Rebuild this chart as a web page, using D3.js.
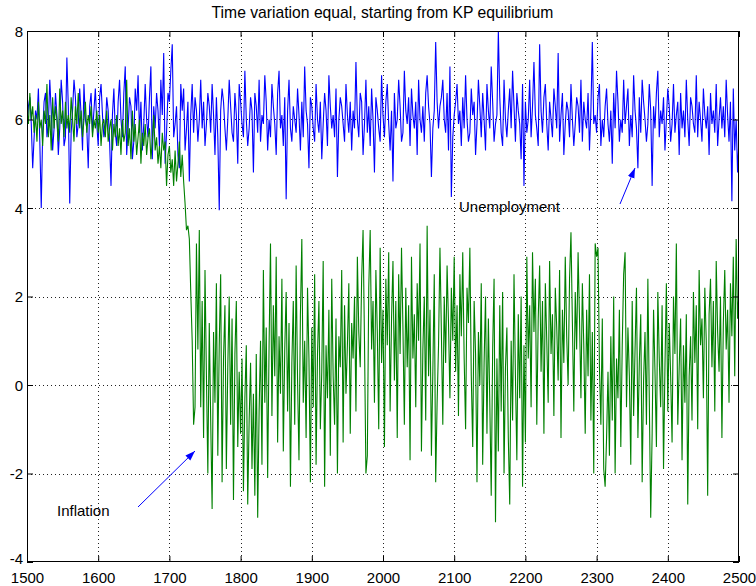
<!DOCTYPE html>
<html>
<head>
<meta charset="utf-8">
<script src="https://cdn.jsdelivr.net/npm/d3@7"></script>
<style>
  html, body { margin: 0; padding: 0; background: #fff; }
  svg { display: block; }
  text { font-family: "Liberation Sans", Arial, Helvetica, sans-serif; fill: #000; }
</style>
</head>
<body>
<svg id="chart" width="756" height="586"></svg>
<script>
// ---- data ----
const titleText = "Time variation equal, starting from KP equilibrium";
const startYear = 1500;
const yearStep = 2;
const xTicks = [1500, 1600, 1700, 1800, 1900, 2000, 2100, 2200, 2300, 2400, 2500];
const yTicks = [-4, -2, 0, 2, 4, 6, 8];
const xDomain = [1500, 2500];
const yDomain = [-4, 8];

const unemployment = [
  5.8,6.3,6.5,5.9,4.9,5.6,6.2,6.0,6.7,5.5,
  4.0,5.7,6.4,6.6,5.6,5.9,6.9,6.2,5.3,5.8,
  6.6,6.1,5.2,5.8,6.9,6.4,5.4,5.6,7.4,6.3,
  4.1,5.7,6.2,6.9,6.5,5.6,5.9,6.7,6.1,5.3,
  6.8,6.0,5.8,4.9,6.3,6.6,5.7,6.2,6.7,5.9,
  5.4,6.5,6.8,6.1,5.6,5.8,6.5,6.2,5.5,4.5,
  6.1,6.7,5.7,5.4,6.4,6.9,6.0,5.6,6.6,7.2,
  5.2,5.8,6.5,6.3,5.1,5.5,6.7,6.2,7.0,5.7,
  6.4,5.3,5.9,6.8,6.0,5.6,6.5,7.2,5.1,6.3,
  5.8,6.6,6.2,5.4,6.9,6.1,7.5,5.0,5.7,6.6,
  6.4,7.1,7.7,5.6,5.9,6.3,5.2,4.9,6.8,6.2,
  6.7,5.3,5.8,6.4,4.6,6.1,6.8,5.7,6.5,6.2,
  5.5,6.0,6.9,5.8,6.4,5.4,5.9,6.6,6.3,5.7,
  6.8,6.1,5.2,6.5,5.6,3.95,6.2,6.7,6.4,5.8,
  5.3,6.0,6.9,6.3,5.7,5.5,6.6,6.1,5.0,6.8,
  6.4,5.9,5.6,7.1,6.0,5.4,5.8,6.5,6.2,4.8,
  6.6,6.3,5.7,6.9,5.5,6.1,5.9,7.0,6.4,5.3,
  6.0,5.6,6.8,6.3,5.9,5.2,6.6,7.1,5.8,6.1,
  5.4,6.5,4.2,6.2,6.9,5.8,5.5,6.3,6.0,5.7,
  6.7,6.1,5.3,6.4,5.6,7.2,6.2,5.9,4.9,6.5,
  6.3,5.8,5.5,6.8,6.0,5.7,6.4,5.1,5.9,6.6,
  6.2,5.4,7.0,6.3,5.8,6.1,5.6,6.7,4.7,6.0,
  6.5,6.3,5.9,5.5,6.8,6.1,5.7,6.4,5.3,6.2,
  5.8,7.3,6.0,5.6,6.6,6.4,5.2,5.9,6.9,5.7,
  6.3,5.4,6.7,6.0,4.8,6.5,6.2,5.8,5.5,7.0,
  6.1,5.6,6.4,6.8,5.9,5.3,6.2,4.6,6.6,5.8,
  6.0,6.9,6.3,5.5,5.7,7.1,6.2,5.9,6.5,5.4,
  6.7,6.1,5.8,6.4,5.2,6.9,6.0,5.7,6.3,5.5,
  6.6,7.0,6.3,5.9,4.7,5.8,6.2,7.75,6.4,5.8,
  6.3,6.5,6.9,6.0,5.7,6.6,5.3,7.2,4.25,5.6,
  6.1,6.4,6.8,5.9,6.2,5.4,6.5,5.8,7.0,6.0,
  5.5,5.7,6.7,6.1,6.4,5.2,5.9,6.9,6.3,5.6,
  6.6,6.0,5.3,6.8,6.2,5.8,7.2,6.4,5.5,5.9,
  6.1,8.0,6.5,5.7,5.4,6.9,6.0,5.6,6.2,6.7,
  5.8,7.1,6.3,5.5,6.6,6.2,5.9,5.1,6.8,4.5,
  6.4,5.7,6.0,6.9,5.6,6.3,7.3,6.1,5.8,5.4,
  7.7,6.2,5.7,6.5,6.8,5.9,5.3,6.4,6.0,5.6,
  6.7,6.3,5.8,7.5,5.5,6.1,6.6,5.2,5.9,6.4,
  6.2,5.6,6.8,6.0,5.4,5.9,6.5,6.3,5.7,6.9,
  5.5,6.4,6.0,5.8,6.6,5.3,6.2,7.75,5.9,6.1,
  5.7,6.5,6.8,5.4,6.0,5.6,6.3,6.7,5.9,5.5,
  6.2,5.0,6.6,5.8,7.1,6.4,5.5,6.0,5.7,6.9,
  5.9,6.3,6.7,5.4,6.1,5.6,7.0,6.2,5.8,4.9,
  6.5,5.7,6.9,6.4,6.0,5.5,5.9,6.8,6.2,4.5,
  6.3,5.8,6.6,7.1,5.6,6.2,5.9,6.5,5.3,6.0,
  6.7,6.3,5.5,5.9,6.8,5.7,6.1,6.4,5.2,6.6,
  5.8,6.2,5.6,6.9,6.0,5.4,6.5,6.3,5.9,5.7,
  7.0,5.6,6.4,6.0,5.5,6.7,6.1,5.8,6.3,5.2,
  6.6,5.9,6.2,5.7,6.8,5.4,6.0,6.5,5.8,6.3,
  5.6,6.9,6.1,5.5,6.4,4.15,6.7,5.3,6.0,4.8,
  5.6
];

const inflation = [
  6.2,5.9,6.6,6.0,6.3,5.7,6.1,5.5,6.4,5.8,
  6.0,5.4,6.2,5.9,6.8,5.6,6.1,5.3,6.5,5.8,
  6.3,6.0,5.5,6.7,5.9,6.2,5.6,6.4,5.8,6.1,
  5.7,6.5,6.0,5.5,6.3,5.9,6.6,5.8,6.2,5.6,
  6.0,6.4,5.7,6.1,5.9,6.3,5.6,6.0,5.8,6.2,
  5.7,6.1,5.4,5.9,6.0,5.6,6.2,5.5,5.8,6.0,
  5.3,5.9,5.6,6.1,5.4,5.8,5.2,6.0,5.5,5.7,
  6.9,5.4,5.8,5.1,6.2,5.5,5.9,5.2,5.6,6.0,
  5.0,5.7,5.4,5.9,5.2,5.6,5.8,5.1,5.5,6.1,
  5.3,5.6,5.0,5.4,4.9,5.7,5.3,5.5,4.5,5.2,
  5.4,4.8,5.1,4.5,5.3,4.6,5.0,5.5,4.7,5.2,
  4.6,4.1,3.5,3.6,3.3,2.1,1.0,-0.9,-0.5,3.2,
  0.8,3.5,-0.5,1.9,-1.2,2.6,0.2,-2.0,1.4,-0.8,
  -2.8,1.2,-0.4,2.3,-1.6,0.9,2.5,-2.2,0.6,1.8,
  -1.9,0.4,2.0,-0.9,1.5,-2.6,0.7,1.9,-1.4,0.3,
  -1.1,0.6,-2.4,-0.3,0.9,-2.7,-0.8,0.5,-1.9,-0.2,
  -2.5,0.7,-3.0,-0.6,1.0,-1.8,2.6,-0.4,1.3,-2.1,
  0.9,3.2,-0.7,1.8,0.2,2.9,-1.3,1.1,-0.2,2.4,
  -1.5,0.8,2.1,-0.6,1.4,-2.3,0.5,1.9,-0.9,2.7,
  0.1,-1.7,1.6,3.3,-0.4,1.0,-1.2,2.2,0.6,-2.2,
  1.3,-0.5,2.5,-1.8,0.7,1.9,-1.0,0.3,2.8,-2.3,
  0.9,-0.3,1.7,-1.6,2.4,0.2,-0.9,1.5,-2.0,1.1,
  0.4,2.6,-1.3,1.8,-0.2,0.9,2.3,-1.1,1.4,0.6,
  2.0,-0.6,2.9,1.2,0.4,2.4,3.5,1.0,-2.0,-1.6,
  2.2,3.5,0.8,1.9,-0.4,2.6,1.2,-1.0,3.1,0.5,
  1.7,-1.4,2.4,0.9,3.0,-0.6,1.5,2.8,0.1,1.9,
  -1.2,2.5,0.7,3.1,1.3,-0.9,2.2,0.4,1.8,-1.7,
  2.9,0.6,1.6,-0.5,2.3,1.0,3.2,-1.5,0.8,2.0,
  -0.8,3.6,0.2,1.7,-1.6,0.3,2.5,-2.2,-0.4,0.9,
  3.1,1.2,-0.9,2.0,0.5,2.7,1.4,-0.3,2.2,1.0,
  2.9,0.3,1.8,-0.7,2.5,1.1,3.0,0.6,-1.0,2.2,
  1.4,3.1,0.2,-1.4,1.9,0.7,-2.2,1.2,0.0,2.3,
  -1.8,0.5,2.0,-1.1,1.5,-0.4,-2.5,0.8,2.4,-3.1,
  0.6,-1.5,1.8,-0.6,2.1,-2.0,0.4,1.3,-1.2,-2.7,
  1.0,-0.8,2.5,0.2,-1.7,1.6,-0.3,2.0,-2.3,0.9,
  -1.3,2.9,0.6,1.8,-0.5,3.0,1.2,2.4,-0.9,1.5,
  2.7,0.3,1.9,-1.1,2.3,1.0,-0.4,2.8,0.7,1.6,
  -0.7,2.2,1.3,0.1,2.6,-1.2,1.7,0.5,2.9,1.1,
  0.0,2.4,3.45,1.4,-0.6,2.1,0.8,3.0,1.5,-0.3,
  2.3,0.9,-1.1,1.7,0.2,2.5,-0.8,1.2,-2.0,3.2,
  2.9,3.1,0.4,-0.9,1.5,-1.9,-2.3,-1.2,0.3,-1.6,
  1.1,-0.8,2.0,-2.0,0.6,-0.3,1.7,-1.4,0.9,2.5,
  3.0,-0.5,1.3,0.2,-1.8,1.9,-0.7,0.8,2.2,-1.2,
  0.5,1.6,-2.2,0.1,1.2,-0.9,2.4,-0.3,-3.0,-1.1,
  1.7,0.3,-1.4,2.1,0.6,-0.5,1.8,-1.9,0.4,2.3,
  -0.6,1.4,0.2,-1.3,2.0,0.7,3.2,-0.9,0.4,1.5,
  -1.7,0.9,-0.4,1.6,-2.7,0.2,1.1,-0.8,2.1,0.5,
  1.8,-1.0,2.6,0.9,1.5,-0.3,2.2,1.0,-2.5,1.6,
  2.4,0.4,1.9,-0.6,2.8,1.2,0.3,2.0,-1.2,1.4,
  2.6,0.8,1.7,-0.4,2.3,1.1,2.9,0.2,3.3,1.5,
  2.1
];

const annotations = [
  { text: "Unemployment", x: 459, y: 212, ax0: 620, ay0: 204, ax1: 635, ay1: 168 },
  { text: "Inflation", x: 57, y: 516, ax0: 138, ay0: 507, ax1: 195, ay1: 451 }
];

// ---- layout ----
const margin = { left: 27, top: 31, right: 739, bottom: 562 };
const svg = d3.select("#chart");
svg.append("rect").attr("width", 756).attr("height", 586).attr("fill", "#fff");

const x = d3.scaleLinear().domain(xDomain).range([margin.left, margin.right]);
const y = d3.scaleLinear().domain(yDomain).range([margin.bottom, margin.top]);

const fontSize = 15;

// grid
const grid = svg.append("g").attr("class", "grid");
grid.selectAll("line.vx").data(xTicks.slice(1, -1)).join("line")
  .attr("x1", d => Math.round(x(d)) + 0.5).attr("x2", d => Math.round(x(d)) + 0.5)
  .attr("y1", margin.top).attr("y2", margin.bottom)
  .attr("stroke", "#222").attr("stroke-width", 1).attr("stroke-dasharray", "1,3");
grid.selectAll("line.hy").data(yTicks.slice(1, -1)).join("line")
  .attr("y1", d => Math.round(y(d)) + 0.5).attr("y2", d => Math.round(y(d)) + 0.5)
  .attr("x1", margin.left).attr("x2", margin.right)
  .attr("stroke", "#222").attr("stroke-width", 1).attr("stroke-dasharray", "1,3");

// series
svg.append("defs").append("clipPath").attr("id", "clip")
  .append("rect").attr("x", margin.left).attr("y", margin.top)
  .attr("width", margin.right - margin.left).attr("height", margin.bottom - margin.top);

const line = d3.line().x((d, i) => x(startYear + i * yearStep)).y(d => y(d));
const plot = svg.append("g").attr("clip-path", "url(#clip)");
plot.append("path").datum(unemployment).attr("d", line)
  .attr("fill", "none").attr("stroke", "#0000ff").attr("stroke-width", 1.1);
plot.append("path").datum(inflation).attr("d", line)
  .attr("fill", "none").attr("stroke", "#008000").attr("stroke-width", 1.1);

// axes box and ticks
const tickLen = 6;
const axisG = svg.append("g");
const bottomAxis = d3.axisBottom(x).tickValues(xTicks).tickSize(-tickLen).tickPadding(10).tickFormat(d3.format("d"));
const topAxis = d3.axisTop(x).tickValues(xTicks).tickSize(-tickLen).tickFormat("");
const leftAxis = d3.axisLeft(y).tickValues(yTicks).tickSize(-tickLen).tickPadding(4).tickFormat(d3.format("d"));
const rightAxis = d3.axisRight(y).tickValues(yTicks).tickSize(-tickLen).tickFormat("");

function style(g) {
  g.select(".domain").remove();
  g.selectAll(".tick line").attr("stroke", "#000");
  g.selectAll(".tick text").attr("font-size", fontSize).attr("fill", "#000")
    .attr("font-family", '"Liberation Sans", Arial, sans-serif');
}
axisG.append("g").attr("transform", `translate(0,${margin.bottom})`).call(bottomAxis).call(style)
  .selectAll(".tick text").attr("dy", "0.72em");
axisG.append("g").attr("transform", `translate(0,${margin.top})`).call(topAxis).call(style);
axisG.append("g").attr("transform", `translate(${margin.left},0)`).call(leftAxis).call(style)
  .selectAll(".tick text").text(d => d < 0 ? "-" + Math.abs(d) : d)
  .attr("dy", d => d === yDomain[0] ? "0.1em" : "0.35em");
axisG.append("g").attr("transform", `translate(${margin.right},0)`).call(rightAxis).call(style);

svg.append("rect")
  .attr("x", margin.left + 0.5).attr("y", margin.top + 0.5)
  .attr("width", margin.right - margin.left - 1).attr("height", margin.bottom - margin.top - 1)
  .attr("fill", "none").attr("stroke", "#000").attr("stroke-width", 1);

// title
svg.append("text").attr("x", 382.5).attr("y", 18)
  .attr("text-anchor", "middle").attr("font-size", 15.7).text(titleText);

// annotations with arrows
const defs = svg.select("defs");
defs.append("marker").attr("id", "arrow").attr("viewBox", "0 0 10 10")
  .attr("refX", 10).attr("refY", 5).attr("markerWidth", 10).attr("markerHeight", 10)
  .attr("markerUnits", "userSpaceOnUse").attr("orient", "auto")
  .append("path").attr("d", "M0,1.5 L10,5 L0,8.5 Z").attr("fill", "#0000ff");

const ann = svg.append("g");
ann.selectAll("text").data(annotations).join("text")
  .attr("x", d => d.x).attr("y", d => d.y).attr("font-size", fontSize).text(d => d.text);
ann.selectAll("line").data(annotations).join("line")
  .attr("x1", d => d.ax0).attr("y1", d => d.ay0).attr("x2", d => d.ax1).attr("y2", d => d.ay1)
  .attr("stroke", "#0000ff").attr("stroke-width", 1).attr("marker-end", "url(#arrow)");
</script>
</body>
</html>
